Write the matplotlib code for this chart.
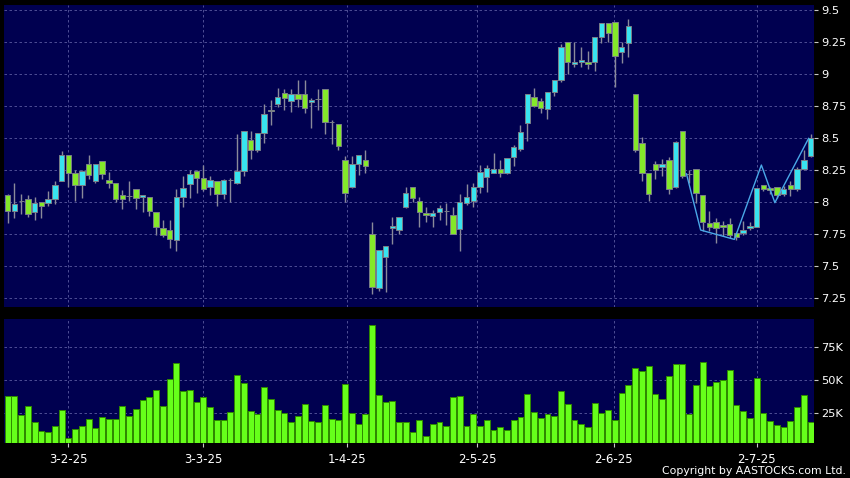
import numpy as np
import matplotlib
matplotlib.use("Agg")
import matplotlib.pyplot as plt

# daily candles (oldest first)
opens = [8.055, 7.927, 8.005, 8.023, 7.924, 7.997, 7.992, 8.023, 8.161, 8.370,
         8.227, 8.133, 8.297, 8.161, 8.318, 8.172, 8.148, 8.052, 8.049, 8.102,
         8.042, 8.042, 7.924, 7.797, 7.781, 7.703, 8.042, 8.141, 8.245, 8.186,
         8.120, 8.162, 8.063, 8.173, 8.149, 8.246, 8.482, 8.403, 8.542, 8.720,
         8.762, 8.848, 8.791, 8.840, 8.840, 8.778, 8.806, 8.880, 8.626, 8.613,
         8.325, 8.115, 8.298, 8.325, 7.749, 7.330, 7.573, 7.796, 7.780, 7.964,
         8.115, 8.008, 7.917, 7.893, 7.924, 7.930, 7.898, 7.786, 7.995, 8.008,
         8.120, 8.193, 8.224, 8.255, 8.224, 8.354, 8.411, 8.615, 8.818, 8.792,
         8.724, 8.857, 8.953, 9.253, 9.078, 9.091, 9.096, 9.091, 9.286, 9.396,
         9.404, 9.174, 9.240, 8.845, 8.462, 8.226, 8.294, 8.273, 8.326, 8.117,
         8.555, 8.220, 8.255, 8.052, 7.839, 7.846, 7.818, 7.831, 7.760, 7.760,
         7.794, 7.807, 8.130, 8.107, 8.117, 8.060, 8.130, 8.099, 8.255, 8.359]
highs = [8.060, 8.146, 8.062, 8.057, 8.036, 8.003, 8.083, 8.167, 8.396, 8.370,
         8.250, 8.253, 8.370, 8.297, 8.318, 8.232, 8.148, 8.094, 8.167, 8.102,
         8.055, 8.042, 7.924, 7.859, 7.859, 8.102, 8.206, 8.250, 8.250, 8.293,
         8.207, 8.162, 8.181, 8.188, 8.534, 8.552, 8.552, 8.542, 8.764, 8.796,
         8.887, 8.880, 8.880, 8.953, 8.953, 8.809, 8.885, 8.880, 8.644, 8.613,
         8.356, 8.356, 8.364, 8.403, 7.846, 7.623, 7.657, 7.880, 7.885, 8.115,
         8.115, 8.042, 7.964, 7.938, 7.977, 7.995, 7.964, 8.060, 8.141, 8.146,
         8.289, 8.289, 8.380, 8.328, 8.341, 8.445, 8.602, 8.841, 8.888, 8.810,
         8.857, 8.953, 9.232, 9.253, 9.253, 9.214, 9.182, 9.286, 9.396, 9.396,
         9.404, 9.253, 9.427, 8.845, 8.506, 8.226, 8.320, 8.333, 8.352, 8.477,
         8.555, 8.250, 8.255, 8.052, 7.930, 7.878, 7.852, 7.872, 7.760, 7.852,
         7.846, 8.110, 8.135, 8.117, 8.117, 8.125, 8.164, 8.273, 8.404, 8.534]
lows = [7.833, 7.875, 7.906, 7.885, 7.859, 7.875, 7.969, 7.984, 8.161, 8.115,
        8.005, 8.029, 8.180, 8.150, 8.180, 8.109, 7.997, 7.943, 8.005, 7.943,
        7.919, 7.891, 7.745, 7.724, 7.641, 7.615, 7.958, 8.029, 8.068, 8.090,
        8.058, 7.971, 8.024, 8.003, 8.141, 8.204, 8.338, 8.390, 8.463, 8.599,
        8.743, 8.717, 8.704, 8.743, 8.696, 8.581, 8.717, 8.534, 8.455, 8.403,
        8.003, 8.110, 8.212, 8.225, 7.285, 7.304, 7.298, 7.670, 7.750, 7.950,
        8.000, 7.807, 7.846, 7.807, 7.859, 7.820, 7.747, 7.620, 7.977, 7.964,
        8.073, 8.081, 8.224, 8.198, 8.220, 8.281, 8.400, 8.479, 8.745, 8.693,
        8.646, 8.831, 8.940, 9.000, 9.052, 9.052, 9.036, 9.023, 9.240, 9.247,
        8.901, 9.089, 9.130, 8.393, 8.165, 8.005, 8.177, 8.203, 8.065, 8.110,
        8.190, 8.150, 7.995, 7.773, 7.773, 7.682, 7.734, 7.721, 7.701, 7.742,
        7.780, 7.807, 8.090, 8.060, 8.034, 8.047, 8.047, 8.090, 8.250, 8.350]
closes = [7.930, 7.984, 8.005, 7.906, 7.995, 7.969, 8.023, 8.135, 8.370, 8.224,
          8.133, 8.245, 8.214, 8.297, 8.219, 8.148, 8.023, 8.023, 8.049, 8.031,
          8.055, 7.927, 7.802, 7.742, 7.711, 8.042, 8.109, 8.219, 8.185, 8.102,
          8.173, 8.063, 8.173, 8.173, 8.246, 8.552, 8.403, 8.542, 8.686, 8.710,
          8.817, 8.809, 8.840, 8.801, 8.738, 8.796, 8.806, 8.626, 8.626, 8.437,
          8.071, 8.298, 8.364, 8.280, 7.338, 7.623, 7.657, 7.809, 7.885, 8.068,
          8.034, 7.924, 7.898, 7.917, 7.950, 7.930, 7.747, 8.003, 8.036, 8.115,
          8.232, 8.263, 8.255, 8.224, 8.341, 8.427, 8.549, 8.841, 8.750, 8.732,
          8.857, 8.953, 9.208, 9.091, 9.096, 9.109, 9.078, 9.286, 9.396, 9.318,
          9.141, 9.208, 9.375, 8.408, 8.229, 8.064, 8.247, 8.294, 8.099, 8.469,
          8.203, 8.220, 8.068, 7.844, 7.807, 7.797, 7.805, 7.740, 7.727, 7.779,
          7.812, 8.107, 8.099, 8.091, 8.052, 8.099, 8.099, 8.255, 8.328, 8.497]
# volume in thousands of shares
volumes = [37.6, 37.9, 23.0, 30.3, 17.7, 11.4, 10.6, 14.9, 26.8, 6.1,
           12.9, 14.9, 19.9, 13.4, 21.7, 20.2, 20.2, 30.1, 22.2, 27.8,
           34.3, 36.9, 41.9, 30.1, 50.3, 62.6, 41.7, 41.9, 33.1, 36.6,
           29.3, 19.4, 19.4, 25.3, 53.3, 47.5, 26.5, 24.0, 44.2, 35.4,
           27.3, 24.5, 18.2, 22.5, 31.6, 18.9, 17.7, 31.1, 20.2, 19.4,
           47.0, 24.5, 16.7, 24.0, 91.4, 38.4, 33.3, 33.8, 18.2, 17.9,
           10.4, 19.7, 7.3, 16.4, 17.7, 14.9, 36.9, 37.4, 15.2, 24.0,
           14.6, 19.4, 12.1, 13.9, 11.9, 19.4, 22.0, 39.1, 25.5, 20.7,
           24.0, 22.5, 41.7, 31.6, 19.4, 16.2, 14.1, 32.1, 25.0, 26.8,
           19.4, 39.6, 46.0, 58.6, 56.8, 60.1, 39.1, 35.4, 53.0, 61.9,
           61.9, 24.0, 45.7, 63.1, 45.5, 48.2, 49.7, 57.3, 30.6, 26.3,
           21.0, 51.5, 24.5, 18.9, 15.7, 13.9, 18.7, 29.5, 38.1, 18.2]

date_pos = [9, 29, 50.35, 69.6, 89.8, 111]
date_labels = ["3-2-25", "3-3-25", "1-4-25", "2-5-25", "2-6-25", "2-7-25"]
price_ticks = [7.25, 7.5, 7.75, 8, 8.25, 8.5, 8.75, 9, 9.25, 9.5]
vol_ticks = [25000, 50000, 75000]
vol_labels = ["25K", "50K", "75K"]

# drawn trend line (W pattern) at the right end
pattern_x = [100.6, 102.7, 107.7, 111.7, 113.7, 118.7]
pattern_y = [8.22, 7.781, 7.708, 8.289, 7.995, 8.497]

navy = "#000050"
grid_kw = dict(color="#5a5aa0", linestyle=(0, (3, 3)), linewidth=0.6)

o = np.array(opens)
h = np.array(highs)
l = np.array(lows)
c = np.array(closes)
idx = np.arange(len(o))

up_col, down_col, flat_col = "#38e4f0", "#84e82a", "#9a9aa8"
cols = np.where(c > o, up_col, np.where(c < o, down_col, flat_col))

fig = plt.figure(figsize=(8.5, 4.78), dpi=100, facecolor="black")
ax = fig.add_axes([4 / 850, 1 - 307 / 478, 810 / 850, 302 / 478], facecolor=navy)
axv = fig.add_axes([4 / 850, 1 - 443.3 / 478, 810 / 850, 124.3 / 478], facecolor=navy, sharex=ax)

# price panel
ax.vlines(idx, l, h, color="#8a8a9a", linewidth=1.0, zorder=2)
ax.bar(idx, np.abs(c - o), bottom=np.minimum(o, c), width=0.8, color=cols,
       edgecolor="#7a7f88", linewidth=0.7, zorder=3)
ax.plot(pattern_x, pattern_y, color="#4aa8e8", linewidth=1.0, zorder=4)

ax.set_xlim(-0.55, 119.5)
ax.set_ylim(7.18, 9.539)
ax.set_yticks(price_ticks)
ax.set_yticklabels([f"{t:g}" for t in price_ticks])
ax.set_xticks(date_pos)
ax.tick_params(axis="x", length=0, labelbottom=False)
ax.grid(True, **grid_kw)
ax.set_axisbelow(True)

# volume panel
axv.bar(idx, np.array(volumes) * 1000, width=0.88, color="#66ff1a",
        edgecolor="#2f8a00", linewidth=0.7, zorder=3)
axv.set_ylim(1800, 96000)
axv.set_yticks(vol_ticks)
axv.set_yticklabels(vol_labels)
axv.set_xticks(date_pos)
axv.set_xticklabels(date_labels)
axv.grid(True, **grid_kw)
axv.set_axisbelow(True)

for a in (ax, axv):
    for s in a.spines.values():
        s.set_visible(False)
    a.yaxis.tick_right()
    a.tick_params(axis="y", length=3, width=0.8, color="#c8c8c8", pad=2,
                  labelcolor="white", labelsize=8.2)
axv.tick_params(axis="x", length=3, width=0.8, color="#c8c8c8", pad=4,
                labelcolor="white", labelsize=8.5)

fig.text(846 / 850, 1 - 471.5 / 478, "Copyright by AASTOCKS.com Ltd.", color="white",
         fontsize=7.8, ha="right", va="center")

fig.savefig("out.png", dpi=100, facecolor="black")
